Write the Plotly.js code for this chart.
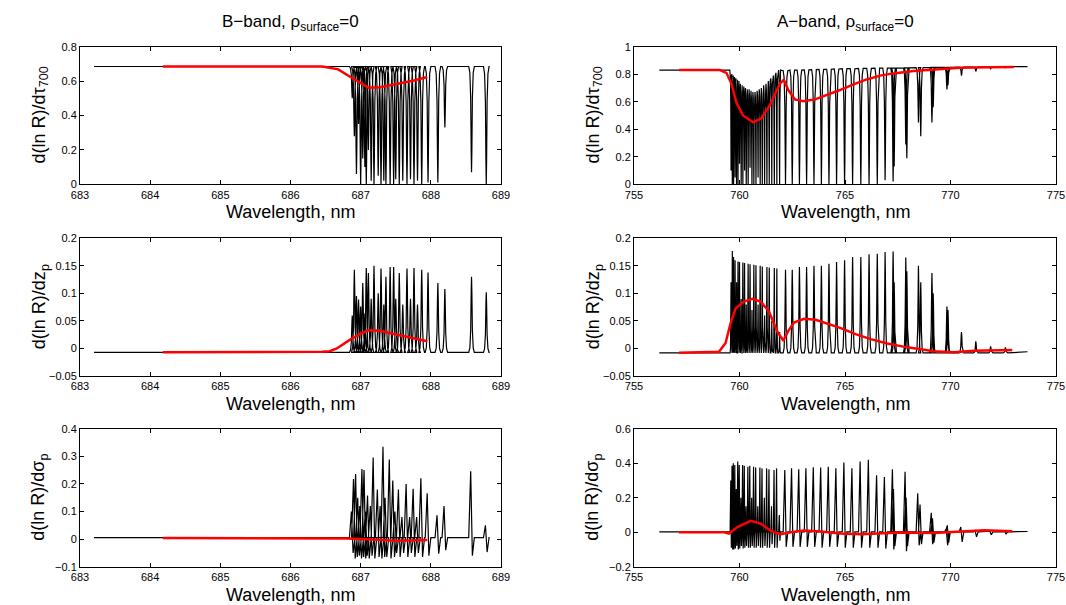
<!DOCTYPE html>
<html>
<head>
<meta charset="utf-8">
<script src="https://cdn.plot.ly/plotly-3.0.1.min.js"></script>
<style>
html,body{margin:0;padding:0;background:#fff;}
#chart{width:1066px;height:605px;}
</style>
</head>
<body>
<div id="chart"></div>
<script>
// ---------------- DATA ----------------
// B-band (left column)
const bEndsX = [683.2, 688.82];
const bBaseTau = 0.685, bBaseZp = -0.007, bBaseSig = 0.005;
const bLines = [686.88, 686.91, 686.94, 686.97, 687.00, 687.03, 687.06, 687.08, 687.11, 687.15,
                687.19, 687.25, 687.29, 687.33, 687.36, 687.42, 687.47, 687.50, 687.55, 687.60,
                687.66, 687.71, 687.76, 687.81, 687.87, 687.96, 688.10, 688.20, 688.58, 688.79];
const bTau = [0.50, 0.28, 0.06, 0.35, 0.00, 0.15, 0.10, 0.00, 0.20, 0.02,
              0.00, 0.05, 0.00, 0.02, 0.00, 0.00, 0.00, 0.03, 0.00, 0.02,
              0.00, 0.03, 0.00, 0.02, 0.00, 0.01, 0.01, 0.33, 0.07, 0.00];
const bZp = [0.060, 0.143, 0.095, 0.089, 0.076, 0.119, 0.064, 0.146, 0.137, 0.090,
             0.150, 0.100, 0.145, 0.080, 0.130, 0.148, 0.148, 0.090, 0.137, 0.080,
             0.145, 0.090, 0.146, 0.080, 0.143, 0.138, 0.119, 0.108, 0.130, 0.102];
const bSigHi = [0.10, 0.218, 0.236, 0.15, 0.12, 0.254, 0.25, 0.10, 0.158, 0.12,
                0.296, 0.18, 0.12, 0.335, 0.15, 0.288, 0.212, 0.10, 0.18, 0.08,
                0.20, 0.08, 0.182, 0.08, 0.22, 0.166, 0.086, 0.12, 0.246, 0.05];
const bSigLo = [-0.05, -0.07, -0.065, -0.06, -0.07, -0.065, -0.07, -0.06, -0.07, -0.06,
                -0.07, -0.065, -0.07, -0.065, -0.065, -0.07, -0.065, -0.05, -0.065, -0.05,
                -0.065, -0.05, -0.065, -0.05, -0.065, -0.06, -0.053, -0.04, -0.06, -0.047];
const bRedX1 = [684.18, 685.0, 686.0, 686.45, 686.56, 686.68, 686.85, 687.0, 687.11, 687.28, 687.52, 687.76, 687.95];
const bRedY1 = [0.685, 0.686, 0.686, 0.685, 0.678, 0.668, 0.625, 0.588, 0.562, 0.564, 0.584, 0.603, 0.624];
const bRedX2 = [684.18, 686.0, 686.45, 686.56, 686.66, 686.85, 687.0, 687.11, 687.28, 687.52, 687.76, 687.95];
const bRedY2 = [-0.007, -0.007, -0.006, -0.005, 0.0, 0.016, 0.027, 0.033, 0.032, 0.025, 0.019, 0.013];
const bRedX3 = [684.18, 686.0, 686.8, 687.0, 687.5, 687.95];
const bRedY3 = [0.004, 0.004, 0.002, 0.0, -0.006, -0.003];

// A-band (right column)
const aEndsX = [756.2, 773.65];
const aEndsTau = [0.83, 0.855], aEndsZp = [-0.008, -0.006], aEndsSig = [0.002, 0.004];
const aRLines = [759.60, 759.66, 759.72, 759.79, 759.86, 759.93, 760.00, 760.08, 760.16, 760.24,
                 760.32, 760.41, 760.50, 760.59, 760.68, 760.78, 760.88, 760.98, 761.08, 761.19,
                 761.30, 761.41, 761.53, 761.65, 761.77, 761.90];
const aRTop = [0.80, 0.79, 0.78, 0.77, 0.76, 0.75, 0.73, 0.72, 0.71, 0.70,
               0.69, 0.69, 0.68, 0.67, 0.67, 0.67, 0.68, 0.69, 0.70, 0.72,
               0.73, 0.75, 0.77, 0.79, 0.81, 0.83];
const aRTau = [0.10, 0.00, 0.00, 0.05, 0.00, 0.00, 0.15, 0.00, 0.00, 0.10,
               0.00, 0.00, 0.12, 0.00, 0.00, 0.00, 0.05, 0.00, 0.00, 0.00,
               0.00, 0.00, 0.00, 0.00, 0.00, 0.00];
const aRZp = [0.120, 0.177, 0.166, 0.160, 0.120, 0.158, 0.157, 0.090, 0.156, 0.155,
              0.080, 0.154, 0.153, 0.070, 0.152, 0.151, 0.080, 0.150, 0.149, 0.060,
              0.148, 0.147, 0.050, 0.146, 0.145, 0.030];
const aRSigHi = [0.30, 0.385, 0.40, 0.39, 0.25, 0.41, 0.39, 0.20, 0.39, 0.385,
                 0.15, 0.38, 0.385, 0.20, 0.38, 0.375, 0.15, 0.375, 0.37, 0.20,
                 0.37, 0.365, 0.15, 0.36, 0.37, 0.10];
const aRSigLo = [-0.09, -0.10, -0.10, -0.095, -0.08, -0.10, -0.095, -0.08, -0.095, -0.09,
                 -0.08, -0.09, -0.09, -0.08, -0.09, -0.09, -0.08, -0.09, -0.09, -0.08,
                 -0.09, -0.09, -0.07, -0.09, -0.09, -0.05];
const aPLines = [762.18, 762.50, 762.84, 763.18, 763.53, 763.88, 764.24, 764.60, 764.98, 765.36,
                 765.75, 766.14, 766.53, 766.90, 767.28, 767.33, 767.88, 767.93, 768.48, 768.59,
                 769.12, 769.18, 769.83, 769.88, 770.52, 771.20, 771.90, 772.60];
const aPTop = [0.825, 0.83, 0.83, 0.832, 0.834, 0.835, 0.836, 0.838, 0.84, 0.84,
               0.842, 0.843, 0.844, 0.845, 0.845, 0.845, 0.846, 0.846, 0.848, 0.848,
               0.85, 0.85, 0.85, 0.85, 0.851, 0.852, 0.853, 0.855];
const aPTau = [0.00, 0.00, 0.00, 0.00, 0.00, 0.00, 0.00, 0.00, 0.00, 0.00,
               0.00, 0.00, 0.00, 0.03, 0.02, 0.13, 0.29, 0.19, 0.45, 0.35,
               0.45, 0.56, 0.69, 0.72, 0.79, 0.82, 0.84, 0.845];
const aPZp = [0.143, 0.143, 0.148, 0.148, 0.150, 0.150, 0.154, 0.157, 0.160, 0.166,
              0.166, 0.171, 0.172, 0.175, 0.176, 0.120, 0.165, 0.140, 0.150, 0.120,
              0.137, 0.100, 0.076, 0.070, 0.030, 0.013, 0.004, 0.002];
const aPSigHi = [0.36, 0.37, 0.365, 0.37, 0.377, 0.375, 0.38, 0.37, 0.404, 0.37,
                 0.41, 0.42, 0.33, 0.32, 0.365, 0.25, 0.35, 0.20, 0.225, 0.16,
                 0.113, 0.08, 0.02, 0.04, 0.03, 0.01, 0.006, 0.004];
const aPSigLo = [-0.085, -0.085, -0.085, -0.085, -0.085, -0.09, -0.085, -0.085, -0.09, -0.09,
                 -0.09, -0.09, -0.09, -0.095, -0.10, -0.08, -0.11, -0.08, -0.076, -0.07,
                 -0.07, -0.06, -0.076, -0.06, -0.056, -0.027, -0.015, -0.01];
const aRedX1 = [757.14, 759.07, 759.38, 759.62, 759.86, 760.17, 760.65, 761.04, 761.44, 761.91,
                762.10, 762.31, 762.63, 763.02, 763.58, 764.13, 764.76, 765.40, 766.03, 766.66,
                767.30, 768.24, 769.19, 770.46, 771.8, 773.0];
const aRedY1 = [0.83, 0.83, 0.81, 0.73, 0.59, 0.50, 0.45, 0.48, 0.575, 0.73,
                0.76, 0.685, 0.617, 0.604, 0.617, 0.648, 0.685, 0.726, 0.762, 0.79,
                0.806, 0.823, 0.835, 0.847, 0.85, 0.852];
const aRedX2 = [757.13, 759.03, 759.34, 759.58, 759.82, 760.21, 760.61, 761.0, 761.4, 761.79,
                762.08, 762.30, 762.58, 763.06, 763.61, 764.16, 764.80, 765.50, 766.22, 767.0,
                767.95, 769.22, 770.17, 771.11, 771.9, 772.93];
const aRedY2 = [-0.008, -0.006, 0.010, 0.046, 0.073, 0.085, 0.090, 0.085, 0.067, 0.031,
                0.014, 0.031, 0.047, 0.054, 0.052, 0.045, 0.037, 0.026, 0.017, 0.009,
                0.002, -0.005, -0.007, -0.004, -0.003, -0.003];
const aRedX3 = [757.13, 759.3, 759.5, 759.9, 760.53, 761.0, 761.48, 761.95, 762.42, 763.06,
                763.85, 764.8, 765.74, 766.69, 767.64, 769.22, 770.8, 771.6, 772.93];
const aRedY3 = [0.0, 0.0, -0.008, 0.03, 0.066, 0.05, 0.008, -0.012, 0.0, 0.01,
                0.004, -0.008, -0.012, -0.008, -0.002, -0.004, 0.006, 0.012, 0.006];

// tick values
const bXTicks = [683, 684, 685, 686, 687, 688, 689];
const aXTicks = [755, 760, 765, 770, 775];

// ---------------- drawing helpers ----------------
// line-profile glyph (shape only): offsets in units of half-width, depth fraction
const PROF_OFF = [-1, -0.6, -0.3, -0.12, 0, 0.12, 0.3, 0.6, 1];
const PROF_FR  = [0, 0.06, 0.3, 0.8, 1, 0.8, 0.3, 0.06, 0];

function dipTrace(centers, vals, tops, w, xs, ys) {
  for (let i = 0; i < centers.length; i++) {
    const top = Array.isArray(tops) ? tops[i] : tops;
    for (let k = 0; k < PROF_OFF.length; k++) {
      xs.push(centers[i] + PROF_OFF[k] * w);
      ys.push(top + (vals[i] - top) * PROF_FR[k]);
    }
  }
}
function sigTrace(centers, hi, lo, base, w, xs, ys) {
  for (let i = 0; i < centers.length; i++) {
    xs.push(centers[i] - w, centers[i] - 0.3 * w, centers[i] + 0.3 * w, centers[i] + w);
    ys.push(base, hi[i], lo[i], base);
  }
}

function black(xs, ys, xa, ya) {
  return {x: xs, y: ys, xaxis: xa, yaxis: ya, type: 'scatter', mode: 'lines',
          line: {color: '#000', width: 1.2}, hoverinfo: 'skip', showlegend: false};
}
function red(xs, ys, xa, ya) {
  return {x: xs, y: ys, xaxis: xa, yaxis: ya, type: 'scatter', mode: 'lines',
          line: {color: '#ff0000', width: 2.5}, hoverinfo: 'skip', showlegend: false};
}

const traces = [];
const WB = 0.04, WAR = 0.045, WAP = 0.11;

// B row 1
{ const xs = [bEndsX[0]], ys = [bBaseTau];
  dipTrace(bLines, bTau, bBaseTau, WB, xs, ys);
  xs.push(bEndsX[1]); ys.push(bBaseTau);
  traces.push(black(xs, ys, 'x', 'y')); traces.push(red(bRedX1, bRedY1, 'x', 'y')); }
// A row 1
{ const xs = [aEndsX[0]], ys = [aEndsTau[0]];
  xs.push(aRLines[0] - 0.06); ys.push(aEndsTau[0]);
  dipTrace(aRLines, aRTau, aRTop, WAR, xs, ys);
  dipTrace(aPLines, aPTau, aPTop, WAP, xs, ys);
  xs.push(aEndsX[1]); ys.push(aEndsTau[1]);
  traces.push(black(xs, ys, 'x2', 'y2')); traces.push(red(aRedX1, aRedY1, 'x2', 'y2')); }
// B row 2
{ const xs = [bEndsX[0]], ys = [bBaseZp];
  dipTrace(bLines, bZp, bBaseZp, WB, xs, ys);
  xs.push(bEndsX[1]); ys.push(bBaseZp);
  traces.push(black(xs, ys, 'x3', 'y3')); traces.push(red(bRedX2, bRedY2, 'x3', 'y3')); }
// A row 2
{ const xs = [aEndsX[0]], ys = [aEndsZp[0]];
  dipTrace(aRLines, aRZp, aEndsZp[0], WAR, xs, ys);
  dipTrace(aPLines, aPZp, aEndsZp[0], WAP, xs, ys);
  xs.push(aEndsX[1]); ys.push(aEndsZp[1]);
  traces.push(black(xs, ys, 'x4', 'y4')); traces.push(red(aRedX2, aRedY2, 'x4', 'y4')); }
// B row 3
{ const xs = [bEndsX[0]], ys = [bBaseSig];
  sigTrace(bLines, bSigHi, bSigLo, bBaseSig, WB, xs, ys);
  xs.push(bEndsX[1]); ys.push(bBaseSig);
  traces.push(black(xs, ys, 'x5', 'y5')); traces.push(red(bRedX3, bRedY3, 'x5', 'y5')); }
// A row 3
{ const xs = [aEndsX[0]], ys = [aEndsSig[0]];
  sigTrace(aRLines, aRSigHi, aRSigLo, aEndsSig[0], WAR, xs, ys);
  sigTrace(aPLines, aPSigHi, aPSigLo, aEndsSig[0], WAP, xs, ys);
  xs.push(aEndsX[1]); ys.push(aEndsSig[1]);
  traces.push(black(xs, ys, 'x6', 'y6')); traces.push(red(aRedX3, aRedY3, 'x6', 'y6')); }

// ---------------- layout ----------------
const W = 1066, H = 605;
const FONT = 'Liberation Sans, Arial, Helvetica, sans-serif';
const px = v => v / W, py = v => 1 - v / H;
const colX = [[80, 501], [634, 1056]];
const rowY = [[46.7, 184.3], [238.3, 376], [428.7, 566.7]];

function axBase() {
  return {showline: true, linecolor: '#000', linewidth: 1, mirror: 'ticks',
          ticks: 'inside', ticklen: 4, tickwidth: 1, tickcolor: '#000',
          showgrid: false, zeroline: false, fixedrange: true,
          tickfont: {family: FONT, size: 11, color: '#000'}};
}
function xAx(col, row, ticks, range, anchor) {
  return Object.assign(axBase(), {domain: [px(colX[col][0]), px(colX[col][1])],
    range: range, tickmode: 'array', tickvals: ticks, ticktext: ticks.map(String), anchor: anchor});
}
function yAx(col, row, range, dtick, anchor) {
  return Object.assign(axBase(), {domain: [py(rowY[row][1]), py(rowY[row][0])],
    range: range, tick0: 0, dtick: dtick, anchor: anchor});
}

const yTitles = ['d(ln R)/dτ<sub>700</sub>', 'd(ln R)/dz<sub>p</sub>', 'd(ln R)/dσ<sub>p</sub>'];
const colTitles = ['B−band, ρ<sub>surface</sub>=0', 'A−band, ρ<sub>surface</sub>=0'];

const annotations = [];
for (let c = 0; c < 2; c++) {
  const cx = (colX[c][0] + colX[c][1]) / 2;
  annotations.push({text: colTitles[c], xref: 'paper', yref: 'paper', x: px(cx), y: py(23),
    xanchor: 'center', yanchor: 'middle', showarrow: false, font: {family: FONT, size: 17, color: '#000'}});
  for (let r = 0; r < 3; r++) {
    annotations.push({text: 'Wavelength, nm', xref: 'paper', yref: 'paper', x: px(cx), y: py(rowY[r][1] + 28),
      xanchor: 'center', yanchor: 'middle', showarrow: false, font: {family: FONT, size: 18, color: '#000'}});
    annotations.push({text: yTitles[r], xref: 'paper', yref: 'paper', x: px(colX[c][0] - 40),
      y: py((rowY[r][0] + rowY[r][1]) / 2), xanchor: 'center', yanchor: 'middle', textangle: -90,
      showarrow: false, font: {family: FONT, size: 18, color: '#000'}});
  }
}

const layout = {
  width: W, height: H, margin: {l: 0, r: 0, t: 0, b: 0},
  paper_bgcolor: '#fff', plot_bgcolor: '#fff', showlegend: false,
  font: {family: FONT, color: '#000'},
  xaxis:  xAx(0, 0, bXTicks, [683, 689], 'y'),
  yaxis:  yAx(0, 0, [0, 0.8], 0.2, 'x'),
  xaxis2: xAx(1, 0, aXTicks, [755, 775], 'y2'),
  yaxis2: yAx(1, 0, [0, 1], 0.2, 'x2'),
  xaxis3: xAx(0, 1, bXTicks, [683, 689], 'y3'),
  yaxis3: yAx(0, 1, [-0.05, 0.2], 0.05, 'x3'),
  xaxis4: xAx(1, 1, aXTicks, [755, 775], 'y4'),
  yaxis4: yAx(1, 1, [-0.05, 0.2], 0.05, 'x4'),
  xaxis5: xAx(0, 2, bXTicks, [683, 689], 'y5'),
  yaxis5: yAx(0, 2, [-0.1, 0.4], 0.1, 'x5'),
  xaxis6: xAx(1, 2, aXTicks, [755, 775], 'y6'),
  yaxis6: yAx(1, 2, [-0.2, 0.6], 0.2, 'x6'),
  annotations: annotations
};

Plotly.newPlot('chart', traces, layout, {displayModeBar: false, staticPlot: true});
</script>
</body>
</html>
